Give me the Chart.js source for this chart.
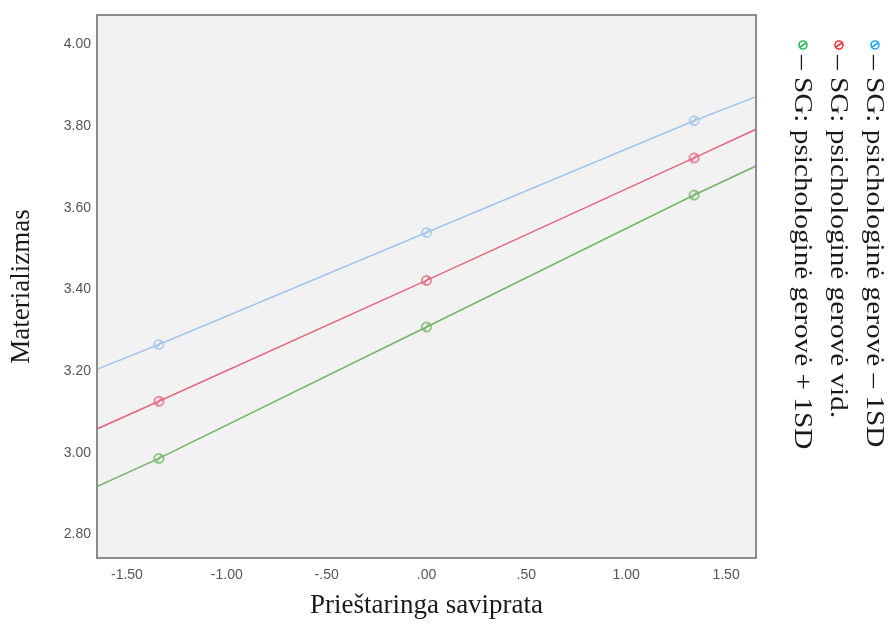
<!DOCTYPE html>
<html>
<head>
<meta charset="utf-8">
<script src="https://cdn.jsdelivr.net/npm/chart.js@4/dist/chart.umd.min.js"></script>
<style>
  html, body { margin: 0; padding: 0; background: #ffffff; }
  #wrap { width: 890px; height: 628px; }
</style>
</head>
<body>
<div id="wrap"><canvas id="my-chart" width="890" height="628"></canvas></div>
<script>

// x positions: plot edges and the three probe points
let xValues = [-1.65, -1.34, 0, 1.34, 1.65];

let lowValues = [3.204, 3.265, 3.539, 3.813, 3.872];
let midValues = [3.058, 3.126, 3.422, 3.722, 3.792];
let highValues = [2.917, 2.986, 3.308, 3.631, 3.702];

let seriesNames = [
    '– SG: psichologinė gerovė – 1SD',
    '– SG: psichologinė gerovė vid.',
    '– SG: psichologinė gerovė + 1SD'
];

let xTickValues = [-1.5, -1, -0.5, 0, 0.5, 1, 1.5];
let xTickLabels = ['-1.50', '-1.00', '-.50', '.00', '.50', '1.00', '1.50'];
let yTickValues = [2.8, 3.0, 3.2, 3.4, 3.6, 3.8, 4.0];
let yTickLabels = ['2.80', '3.00', '3.20', '3.40', '3.60', '3.80', '4.00'];

let xTitle = 'Prieštaringa saviprata';
let yTitle = 'Materializmas';

let lineColors = ['rgb(163,198,236)', 'rgb(226,104,126)', 'rgb(118,180,106)'];
let legendColors = ['rgb(32,170,240)', 'rgb(240,52,52)', 'rgb(40,190,90)'];

let serif = '"Liberation Serif", "DejaVu Serif", serif';
let sans = '"Liberation Sans", Arial, sans-serif';

// small circle with a slash, used as the point style
function makeMarker(color) {
    let c = document.createElement('canvas');
    c.width = 13;
    c.height = 13;
    let g = c.getContext('2d');
    g.strokeStyle = color;
    g.lineWidth = 1.5;
    g.beginPath();
    g.arc(6.5, 6.5, 4.6, 0, Math.PI * 2);
    g.stroke();
    g.beginPath();
    g.moveTo(4.2, 9.6);
    g.lineTo(8.8, 3.4);
    g.stroke();
    return c;
}

function buildSeries(values, color) {
    let pts = [];
    for (let i = 0; i < xValues.length; i++) {
        pts.push({ x: xValues[i], y: values[i] });
    }
    let radius = xValues.map((v, i) => (i === 0 || i === xValues.length - 1) ? 0 : 6);
    return {
        data: pts,
        borderColor: color,
        borderWidth: 1.6,
        pointStyle: makeMarker(color),
        pointRadius: radius,
        pointHoverRadius: radius,
        showLine: true,
        fill: false,
        tension: 0
    };
}

// grey plot background + frame
let frame = {
    id: 'frame',
    beforeDraw(chart) {
        let a = chart.chartArea;
        let ctx = chart.ctx;
        ctx.save();
        ctx.fillStyle = '#f2f2f2';
        ctx.fillRect(a.left, a.top, a.right - a.left, a.bottom - a.top);
        ctx.restore();
    },
    afterDraw(chart) {
        let a = chart.chartArea;
        let ctx = chart.ctx;
        ctx.save();
        ctx.strokeStyle = '#8c8c8c';
        ctx.lineWidth = 2;
        ctx.strokeRect(a.left, a.top, a.right - a.left, a.bottom - a.top);
        ctx.restore();
    }
};

// legend drawn rotated along the right side (text is a bit stretched, like the source)
let sideLegend = {
    id: 'sideLegend',
    afterDraw(chart) {
        let ctx = chart.ctx;
        let a = chart.chartArea;
        let cols = [a.right + 119, a.right + 83, a.right + 47];
        ctx.save();
        for (let i = 0; i < seriesNames.length; i++) {
            let cx = cols[i];
            let my = 45;
            ctx.strokeStyle = legendColors[i];
            ctx.lineWidth = 1.6;
            ctx.beginPath();
            ctx.arc(cx, my, 4, 0, Math.PI * 2);
            ctx.stroke();
            ctx.beginPath();
            ctx.moveTo(cx + 3.5, my - 2.5);
            ctx.lineTo(cx - 3.5, my + 2.5);
            ctx.stroke();

            ctx.save();
            ctx.translate(cx, 55);
            ctx.rotate(Math.PI / 2);
            ctx.scale(1.17, 1);
            ctx.fillStyle = '#1a1a1a';
            ctx.font = '25px ' + serif;
            ctx.textAlign = 'left';
            ctx.textBaseline = 'middle';
            ctx.fillText(seriesNames[i], 0, 1);
            ctx.restore();
        }
        ctx.restore();
    }
};

let ctx = document.getElementById('my-chart').getContext('2d');

let myChart = new Chart(ctx, {
    type: 'scatter',
    data: {
        datasets: [
            buildSeries(lowValues, lineColors[0]),
            buildSeries(midValues, lineColors[1]),
            buildSeries(highValues, lineColors[2])
        ]
    },
    options: {
        responsive: false,
        animation: false,
        events: [],
        layout: {
            padding: { left: 0, right: 134, top: 15, bottom: 0 }
        },
        plugins: {
            legend: { display: false },
            tooltip: { enabled: false }
        },
        scales: {
            x: {
                type: 'linear',
                min: -1.65,
                max: 1.65,
                grid: { display: false, drawTicks: false },
                border: { display: false },
                afterBuildTicks: (scale) => {
                    scale.ticks = xTickValues.map(v => ({ value: v }));
                },
                afterFit: (scale) => {
                    scale.height = 70;
                },
                ticks: {
                    padding: 9,
                    color: '#555555',
                    font: { family: sans, size: 14 },
                    maxRotation: 0,
                    callback: (value) => {
                        let i = xTickValues.indexOf(value);
                        return i >= 0 ? xTickLabels[i] : '';
                    }
                },
                title: {
                    display: true,
                    text: xTitle,
                    color: '#1a1a1a',
                    font: { family: serif, size: 27 },
                    padding: { top: 0, bottom: 6 }
                }
            },
            y: {
                type: 'linear',
                min: 2.742,
                max: 4.072,
                grid: { display: false, drawTicks: false },
                border: { display: false },
                afterBuildTicks: (scale) => {
                    scale.ticks = yTickValues.map(v => ({ value: v }));
                },
                afterFit: (scale) => {
                    scale.width = 97;
                },
                ticks: {
                    padding: 6,
                    color: '#555555',
                    font: { family: sans, size: 14 },
                    callback: (value) => {
                        let i = yTickValues.findIndex(v => Math.abs(v - value) < 1e-6);
                        return i >= 0 ? yTickLabels[i] : '';
                    }
                },
                title: {
                    display: true,
                    text: yTitle,
                    color: '#1a1a1a',
                    font: { family: serif, size: 27 },
                    padding: { top: 6, bottom: 0 }
                }
            }
        }
    },
    plugins: [frame, sideLegend]
});

</script>
</body>
</html>
